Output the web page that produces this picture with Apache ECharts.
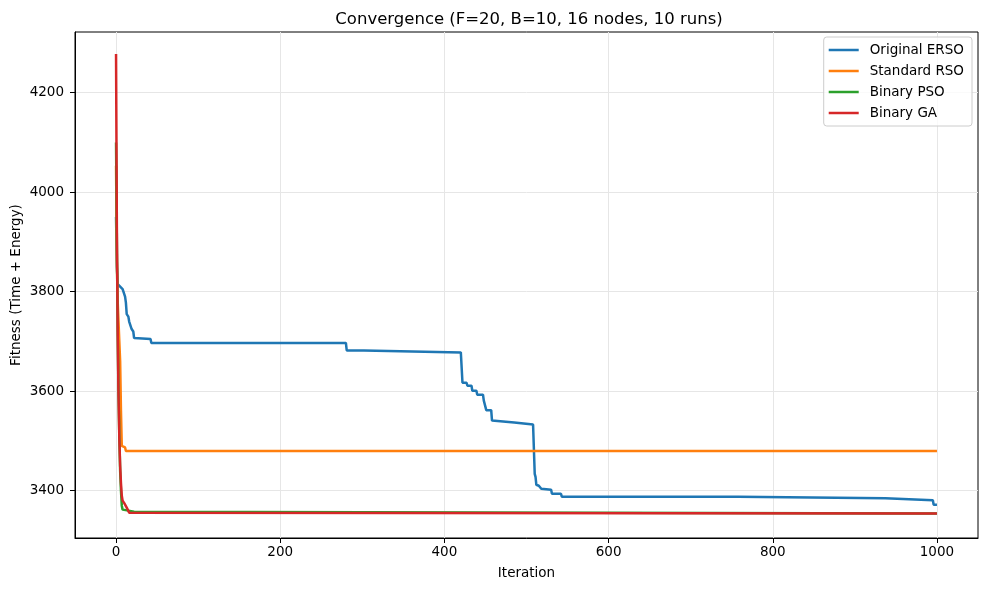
<!DOCTYPE html>
<html>
<head>
<meta charset="utf-8">
<script src="https://cdn.jsdelivr.net/npm/echarts@6/dist/echarts.min.js"></script>
<style>
  html, body { margin: 0; padding: 0; background: #fff; }
  #chart { width: 989px; height: 589px; }
</style>
</head>
<body>
<div id="chart"></div>
<script>
// curve vertices: [iteration, fitness]
var ersoPts = [[0, 3950], [1, 3850], [2, 3815], [5, 3810], [8, 3805], [10, 3802], [11, 3790], [12, 3778], [13, 3755],
  [15, 3750], [16, 3740], [18, 3738], [19, 3725], [21, 3720], [22, 3707], [42, 3705], [43, 3697],
  [280, 3697], [281, 3682], [302, 3682], [303, 3678], [420, 3678], [422, 3617], [427, 3617], [428, 3611],
  [433, 3611], [434, 3601], [439, 3601], [440, 3593], [447, 3593], [448, 3581], [450, 3581], [451, 3562],
  [457, 3562], [458, 3541], [459, 3537], [485, 3537], [486, 3533], [508, 3533], [510, 3434], [511, 3428],
  [512, 3412], [515, 3410], [518, 3404], [520, 3402], [530, 3402], [531, 3394], [542, 3394], [543, 3388],
  [758, 3388], [759, 3385], [937, 3385], [938, 3381], [995, 3381], [996, 3372], [1000, 3372]];
var rsoPts = [[0, 4053], [1, 3860], [2, 3780], [3, 3740], [4, 3700], [5, 3660], [6, 3560], [7, 3490],
  [11, 3487], [12, 3480], [1000, 3480]];
var psoPts = [[0, 4100], [1, 3900], [2, 3720], [3, 3600], [4, 3510], [5, 3440], [6, 3400], [7, 3370],
  [8, 3362], [10, 3360], [22, 3358], [23, 3354], [1000, 3354]];
var gaPts = [[0, 4278], [1, 3930], [2, 3720], [3, 3590], [4, 3505], [5, 3450], [6, 3415], [7, 3390],
  [8, 3380], [9, 3377], [10, 3375], [12, 3372], [13, 3366], [15, 3362], [16, 3356], [17, 3354], [1000, 3354]];

var seriesNames = ['Original ERSO', 'Standard RSO', 'Binary PSO', 'Binary GA'];
var seriesColors = ['#1f77b4', '#ff7f0e', '#2ca02c', '#d62728'];
var xTicks = [0, 200, 400, 600, 800, 1000];
var yTicks = [3400, 3600, 3800, 4000, 4200];

var myChart = echarts.init(document.getElementById('chart'));
var font = 'DejaVu Sans';

var option = {
  backgroundColor: '#fff',
  animation: false,
  title: {
    text: 'Convergence (F=20, B=10, 16 nodes, 10 runs)',
    left: 524,
    top: 6,
    textAlign: 'center',
    textStyle: { fontFamily: font, fontSize: 16.5, fontWeight: 'normal', color: '#000' }
  },
  legend: {
    orient: 'vertical',
    right: 17,
    top: 37,
    padding: [6, 8, 6, 5],
    itemGap: 7,
    itemWidth: 30,
    itemHeight: 2.5,
    icon: 'rect',
    backgroundColor: 'rgba(255,255,255,0.8)',
    borderColor: '#cccccc',
    borderWidth: 1,
    borderRadius: 3,
    data: seriesNames,
    textStyle: { fontFamily: font, fontSize: 13.5, color: '#000', padding: [0, 0, 0, 6] }
  },
  grid: {
    left: 75, right: 11, top: 32, bottom: 51,
    outerBoundsMode: 'none',
    containLabel: false,
    show: true, borderColor: '#000', borderWidth: 1
  },
  xAxis: {
    type: 'value',
    min: -50,
    max: 1050,
    name: 'Iteration',
    nameLocation: 'middle',
    nameGap: 28,
    nameMoveOverlap: false,
    nameTextStyle: { fontFamily: font, fontSize: 13.5, color: '#000' },
    axisLine: { show: true, onZero: false, lineStyle: { color: '#000' } },
    axisTick: { show: true, inside: false, length: 5, customValues: xTicks, lineStyle: { color: '#000' } },
    axisLabel: {
      customValues: xTicks, fontFamily: font, fontSize: 13.5, color: '#000', margin: 7,
      formatter: function (v) { return String(v); }
    },
    splitLine: { show: true, lineStyle: { color: '#e6e6e6', width: 1 } }
  },
  yAxis: {
    type: 'value',
    min: 3305,
    max: 4322,
    name: 'Fitness (Time + Energy)',
    nameLocation: 'middle',
    nameGap: 52,
    nameMoveOverlap: false,
    nameTextStyle: { fontFamily: font, fontSize: 13.5, color: '#000' },
    axisLine: { show: true, onZero: false, lineStyle: { color: '#000' } },
    axisTick: { show: true, inside: false, length: 5, customValues: yTicks, lineStyle: { color: '#000' } },
    axisLabel: {
      customValues: yTicks, fontFamily: font, fontSize: 13.5, color: '#000', margin: 11,
      formatter: function (v) { return String(v); }
    },
    splitLine: { show: true, lineStyle: { color: '#e6e6e6', width: 1 } }
  },
  series: [ersoPts, rsoPts, psoPts, gaPts].map(function (pts, i) {
    return {
      name: seriesNames[i],
      type: 'line',
      data: pts,
      symbol: 'none',
      color: seriesColors[i],
      lineStyle: { width: 2.5, color: seriesColors[i] }
    };
  })
};

myChart.setOption(option);
</script>
</body>
</html>
